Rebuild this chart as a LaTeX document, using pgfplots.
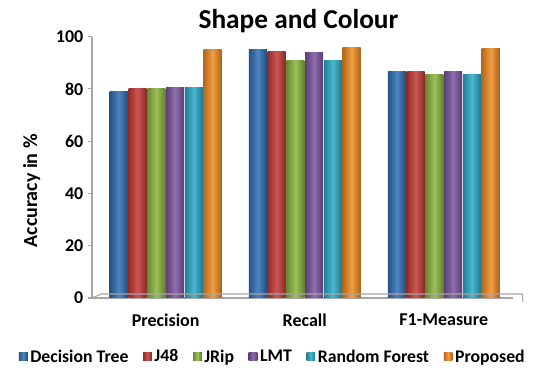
\documentclass[border=0pt]{standalone}
\usepackage{pgfplots}
\pgfplotsset{compat=1.18}
\usepackage{fontspec}
\setmainfont{Carlito}
\definecolor{cBlue}{HTML}{2F6EB5}
\definecolor{cRed}{HTML}{C23A36}
\definecolor{cGreen}{HTML}{8CB53E}
\definecolor{cPurple}{HTML}{7B54A0}
\definecolor{cCyan}{HTML}{2BA9C9}
\definecolor{cOrange}{HTML}{F08C22}
\tikzset{cyl/.style={left color=#1!75!black, right color=#1!70!black, middle color=#1!85!white, draw=none}}
\begin{document}
\begin{tikzpicture}
\path[use as bounding box] (-69pt,-62.25pt) rectangle (343.5pt,223.5pt);
\begin{axis}[
  at={(0,0)}, anchor=south west,
  scale only axis,
  width=316pt, height=196pt,
  ybar,
  bar width=0.13,
  xmin=-0.53, xmax=2.5,
  ymin=0, ymax=100,
  ytick={0,20,...,100},
  xtick={0,1,2},
  xticklabels={Precision,Recall,F1-Measure},
  xtick style={draw=none},
  extra x ticks={0.5,1.5},
  extra x tick labels={},
  extra x tick style={tick style={draw=gray!70, line width=0.8pt}, major tick length=5pt, tick align=outside, grid=none},
  axis x line*=bottom,
  axis y line*=left,
  axis line style={gray!70, line width=0.8pt},
  y axis line style={-},
  x axis line style={-},
  ytick style={draw=gray!70, line width=0.8pt},
  major tick length=3pt,
  tick align=outside,
  /pgf/number format/assume math mode=true,
  ticklabel style={font=\fontsize{13.5}{15}\selectfont\bfseries},
  xticklabel style={yshift=-5pt},
  ylabel={Accuracy in \%},
  ylabel style={font=\fontsize{15}{17}\selectfont\bfseries, at={(axis description cs:-0.143,0.41)}, anchor=center},
  title={Shape and Colour},
  title style={font=\fontsize{20.5}{23}\selectfont\bfseries, at={(axis description cs:0.49,1.0)}, anchor=center, yshift=6pt},
  legend style={at={(axis description cs:0.43,-0.225)}, anchor=center, draw=none, font=\fontsize{13.3}{15}\selectfont\bfseries, legend columns=6, /tikz/every even column/.append style={column sep=9pt}, /tikz/every odd column/.append style={column sep=0pt}},
  legend image code/.code={\fill[#1] (0pt,-3pt) rectangle (6.5pt,3.5pt);},
  clip=false,
]
% Decision Tree
\addplot[cyl=cBlue, bar shift=-0.3375] coordinates {(0,79)};
\addplot[cyl=cBlue, bar shift=-0.3375, forget plot] coordinates {(1,95)};
\addplot[cyl=cBlue, bar shift=-0.3375, forget plot] coordinates {(2,86.5)};
% J48
\addplot[cyl=cRed, bar shift=-0.2025] coordinates {(0,80)};
\addplot[cyl=cRed, bar shift=-0.2025, forget plot] coordinates {(1,94.5)};
\addplot[cyl=cRed, bar shift=-0.2025, forget plot] coordinates {(2,86.5)};
% JRip
\addplot[cyl=cGreen, bar shift=-0.0675] coordinates {(0,80)};
\addplot[cyl=cGreen, bar shift=-0.0675, forget plot] coordinates {(1,91)};
\addplot[cyl=cGreen, bar shift=-0.0675, forget plot] coordinates {(2,85.5)};
% LMT
\addplot[cyl=cPurple, bar shift=0.0675] coordinates {(0,80.5)};
\addplot[cyl=cPurple, bar shift=0.0675, forget plot] coordinates {(1,94)};
\addplot[cyl=cPurple, bar shift=0.0675, forget plot] coordinates {(2,86.5)};
% Random Forest
\addplot[cyl=cCyan, bar shift=0.2025] coordinates {(0,80.5)};
\addplot[cyl=cCyan, bar shift=0.2025, forget plot] coordinates {(1,91)};
\addplot[cyl=cCyan, bar shift=0.2025, forget plot] coordinates {(2,85.5)};
% Proposed
\addplot[cyl=cOrange, bar shift=0.3375] coordinates {(0,95)};
\addplot[cyl=cOrange, bar shift=0.3375, forget plot] coordinates {(1,96)};
\addplot[cyl=cOrange, bar shift=0.3375, forget plot] coordinates {(2,95.5)};
\legend{Decision Tree, J48, JRip, LMT, Random Forest, Proposed}
\draw[gray!70, line width=0.8pt] (axis cs:-0.53,0) -- ([shift={(7pt,3pt)}]axis cs:-0.53,0) -- ([shift={(7pt,3pt)}]axis cs:2.5,0) -- ([shift={(7pt,-3pt)}]axis cs:2.5,0);
\end{axis}
\end{tikzpicture}
\end{document}
